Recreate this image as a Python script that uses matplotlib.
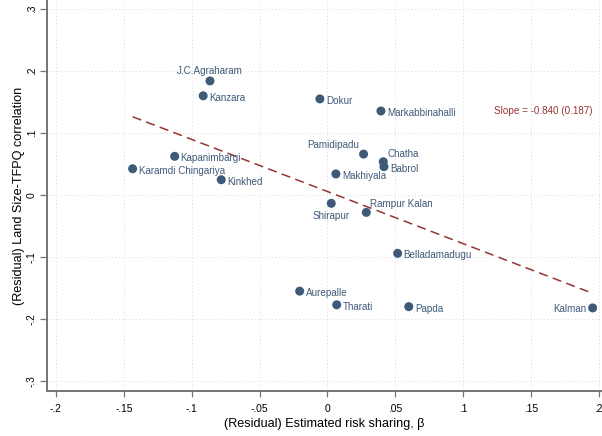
import numpy as np
import matplotlib
matplotlib.use("Agg")
import matplotlib.pyplot as plt

plt.rcParams['font.family'] = ['Liberation Sans', 'DejaVu Sans']

villages = ['J.C.Agraharam', 'Kanzara', 'Dokur', 'Markabbinahalli', 'Pamidipadu',
            'Chatha', 'Babrol', 'Makhiyala', 'Kapanimbargi', 'Kinkhed', 'Shirapur',
            'Rampur Kalan', 'Karamdi Chingariya', 'Belladamadugu', 'Aurepalle',
            'Tharati', 'Papda', 'Kalman']
risk_sharing = [-0.0865, -0.0915, -0.0055, 0.0395, 0.0267,
                0.0412, 0.0417, 0.0063, -0.1125, -0.0782, 0.0029,
                0.0287, -0.1435, 0.0518, -0.0204,
                0.0069, 0.0600, 0.1955]
tfpq_corr = [0.184, 0.160, 0.155, 0.1355, 0.066,
             0.0537, 0.0457, 0.034, 0.0624, 0.0247, -0.0134,
             -0.028, 0.0424, -0.094, -0.155,
             -0.177, -0.180, -0.182]
slope, slope_se = -0.840, 0.187

xticks = [-0.2, -0.15, -0.1, -0.05, 0, 0.05, 0.1, 0.15, 0.2]
yticks = [-0.3, -0.2, -0.1, 0, 0.1, 0.2, 0.3]

# where each marker label sits (stata clock positions), default is 3 o'clock
label_pos = {'J.C.Agraharam': 12, 'Pamidipadu': 11, 'Chatha': 1,
             'Shirapur': 6, 'Rampur Kalan': 1, 'Kalman': 9}
offsets = {3: ((6, -2), 'left', 'center'),
           12: ((0, 10), 'center', 'center'),
           11: ((-4, 9), 'right', 'center'),
           1: ((4, 8), 'left', 'center'),
           6: ((0, -12.5), 'center', 'center'),
           9: ((-6.5, -1), 'right', 'center')}

def fmt(v):
    if v == 0:
        return '0'
    s = f'{v:g}'
    return s.replace('0.', '.')

dot = '#3e5a78'
red = '#963434'
gray = '#747474'

fig = plt.figure(figsize=(6.02, 4.36), dpi=100)
ax = fig.add_axes([47 / 602, 45 / 436, 555 / 602, 391 / 436])

x = np.array(risk_sharing)
y = np.array(tfpq_corr)
ax.scatter(x, y, s=42, color=dot, edgecolor='none', zorder=3)

px = 72 / 100
for name, xi, yi in zip(villages, x, y):
    (dx, dy), ha, va = offsets[label_pos.get(name, 3)]
    ax.annotate(name, (xi, yi), xytext=(dx * px, dy * px), textcoords='offset points',
                ha=ha, va=va, fontsize=7.1, color=dot, zorder=4)

# fitted line through the means
xs = np.array([x.min(), x.max()])
ax.plot(xs, y.mean() + slope * (xs - x.mean()), color=red, lw=1.1,
        dashes=(6, 3.5), zorder=2)
ax.text(0.1957, 0.1355, f'Slope = {slope:.3f} ({slope_se:.3f})', color=red,
        fontsize=7.1, ha='right', va='center')

ax.set_xlim(-0.2066, 0.2024)
ax.set_ylim(-0.316, 0.3145)
ax.set_xticks(xticks)
ax.set_xticklabels([fmt(v) for v in xticks])
ax.set_yticks(yticks)
ax.set_yticklabels([fmt(v) for v in yticks], rotation=90, va='center')
ax.tick_params(axis='both', colors=gray, labelcolor='black', labelsize=7.4,
               width=0.9)
ax.tick_params(axis='x', length=4.5, pad=4.5)
ax.tick_params(axis='y', length=5, pad=2.4)

ax.grid(True, color='#d9d9d9', lw=0.7, ls=(0, (1, 2.5)))
ax.set_axisbelow(True)
for side in ['top', 'right']:
    ax.spines[side].set_visible(False)
for side in ['left', 'bottom']:
    ax.spines[side].set_color(gray)
    ax.spines[side].set_linewidth(1.4)

ax.set_xlabel('(Residual) Estimated risk sharing, β', fontsize=9.1, labelpad=3)
ax.set_ylabel('(Residual) Land Size-TFPQ correlation', fontsize=9.1, labelpad=1.5)

fig.savefig('out.png', dpi=100)
